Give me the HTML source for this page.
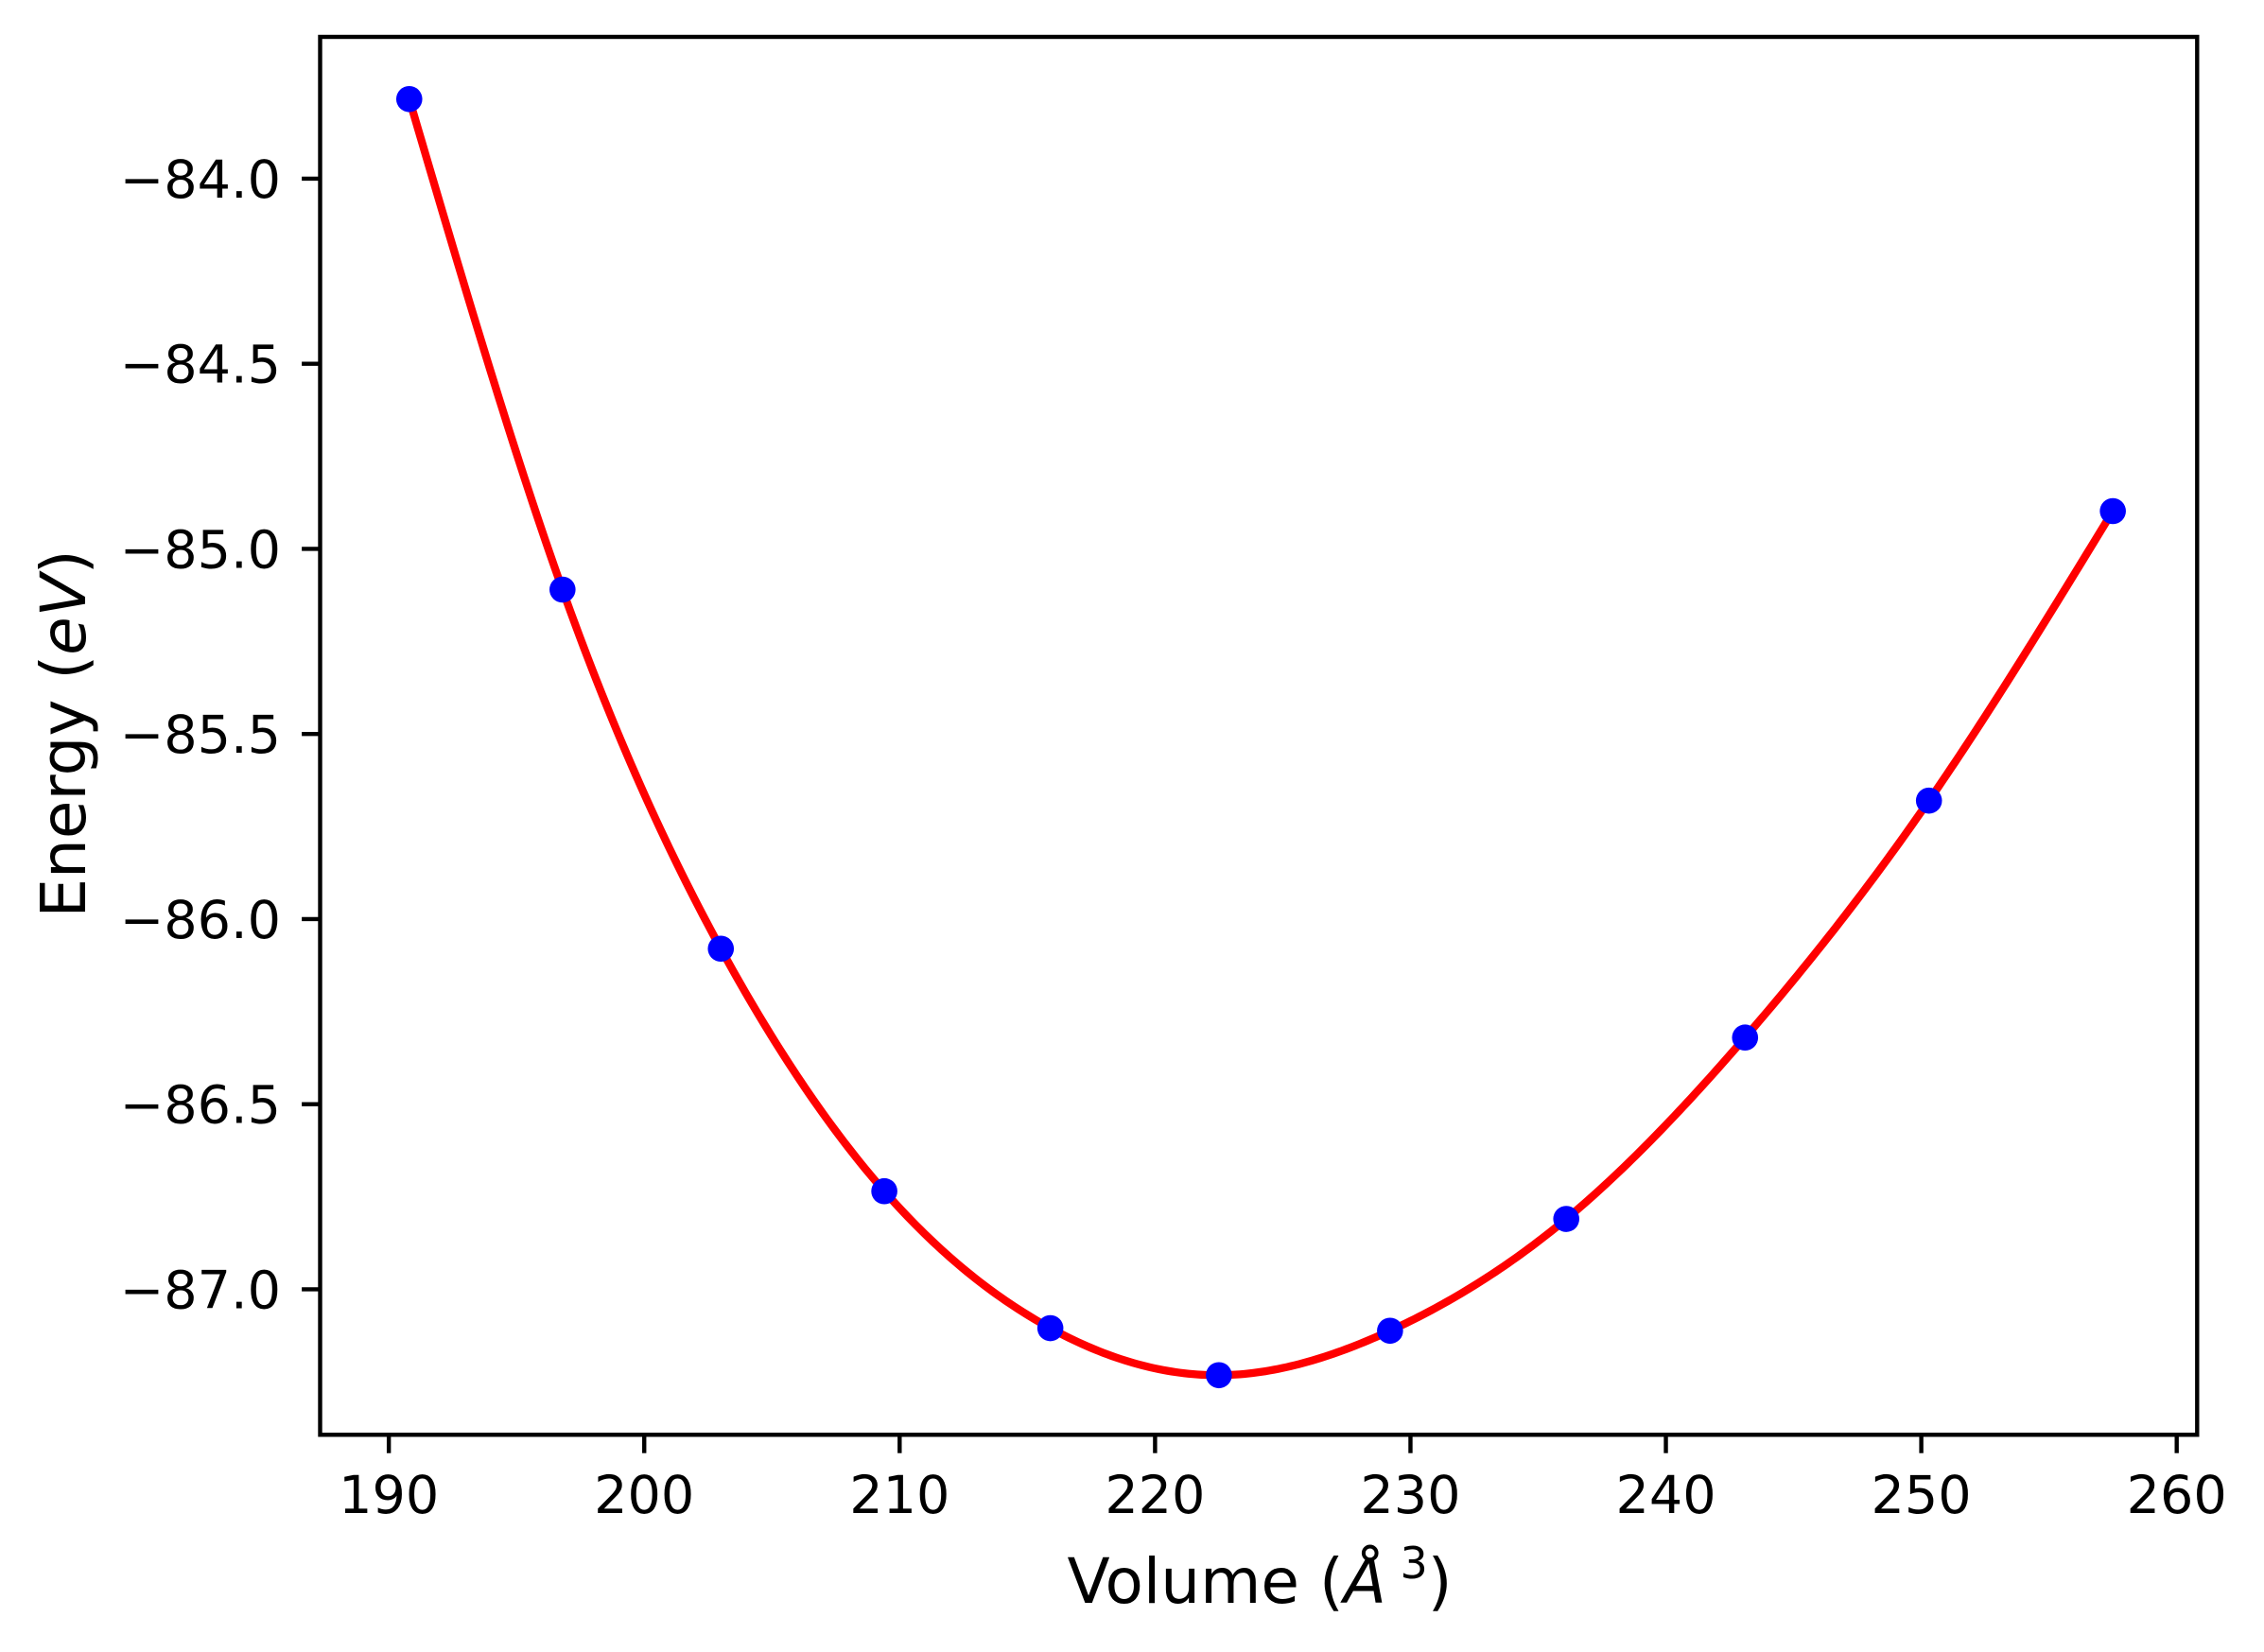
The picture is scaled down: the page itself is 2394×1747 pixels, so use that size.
<!DOCTYPE html>
<html><head><meta charset="utf-8"><style>
html,body{margin:0;padding:0;background:#fff;}
svg{display:block;}
text{font-family:"DejaVu Sans","Liberation Sans",sans-serif;fill:#000;}
</style></head><body>
<svg id="chart" width="2394" height="1747" viewBox="0 0 2394 1747" xmlns="http://www.w3.org/2000/svg">
<rect width="2394" height="1747" fill="#fff"/>
<g id="plot"></g>
<g id="axes"></g>
<text x="1332" y="1695" font-size="66" text-anchor="middle">Volume (<tspan font-style="italic">Å</tspan><tspan font-size="46" dy="-26"> 3</tspan><tspan dy="26">)</tspan></text>
<text transform="translate(90,776) rotate(-90)" font-size="66" text-anchor="middle">Energy (<tspan font-style="italic">eV</tspan>)</text>
</svg>
<script>
const volumes = [190.8, 196.8, 203.0, 209.4, 215.9, 222.5, 229.2, 236.1, 243.1, 250.3, 257.5];
const energies = [-83.785, -85.11, -86.08, -86.735, -87.105, -87.232, -87.112, -86.81, -86.32, -85.68, -84.898];
const xTicks = [190, 200, 210, 220, 230, 240, 250, 260];
const yTicks = [-84.0, -84.5, -85.0, -85.5, -86.0, -86.5, -87.0];
const yTickLabels = ["\u221284.0","\u221284.5","\u221285.0","\u221285.5","\u221286.0","\u221286.5","\u221287.0"];

const L=338.5, R=2323.3, T=39, B=1517.3;
const xMin=187.31, xMax=260.8, yMin=-87.393, yMax=-83.617;
const sx=v=>L+(v-xMin)/(xMax-xMin)*(R-L);
const sy=v=>B-(v-yMin)/(yMax-yMin)*(B-T);
const NS="http://www.w3.org/2000/svg";
const plot=document.getElementById('plot'), axes=document.getElementById('axes');
function mk(tag,attrs,parent){const e=document.createElementNS(NS,tag);for(const k in attrs)e.setAttribute(k,attrs[k]);parent.appendChild(e);return e;}

// natural cubic spline through data
function spline(xs,ys){
  const n=xs.length,h=[],al=[],l=[1],mu=[0],z=[0],c=new Array(n).fill(0),b=[],d=[];
  for(let i=0;i<n-1;i++)h.push(xs[i+1]-xs[i]);
  for(let i=1;i<n-1;i++)al[i]=3/h[i]*(ys[i+1]-ys[i])-3/h[i-1]*(ys[i]-ys[i-1]);
  for(let i=1;i<n-1;i++){l[i]=2*(xs[i+1]-xs[i-1])-h[i-1]*mu[i-1];mu[i]=h[i]/l[i];z[i]=(al[i]-h[i-1]*z[i-1])/l[i];}
  l[n-1]=1;z[n-1]=0;
  for(let j=n-2;j>=0;j--){c[j]=z[j]-mu[j]*c[j+1];b[j]=(ys[j+1]-ys[j])/h[j]-h[j]*(c[j+1]+2*c[j])/3;d[j]=(c[j+1]-c[j])/(3*h[j]);}
  return x=>{let i=0;while(i<n-2&&x>xs[i+1])i++;const t=x-xs[i];return ys[i]+b[i]*t+c[i]*t*t+d[i]*t*t*t;};
}
const f=spline(volumes,energies);
let dstr='';
const v0=volumes[0],v1=volumes[volumes.length-1];
for(let k=0;k<=400;k++){const v=v0+(v1-v0)*k/400;dstr+=(k?'L':'M')+sx(v).toFixed(2)+' '+sy(f(v)).toFixed(2);}
const curve=mk('path',{d:dstr,fill:'none',stroke:'#ff0000','stroke-width':8.3,'stroke-linejoin':'round'},plot);


volumes.forEach((v,i)=>{
  const c=mk('circle',{cx:sx(v),cy:sy(energies[i]),r:13.8,fill:'#0000ff'},plot);
  
  
});

const frame=mk('rect',{x:L,y:T,width:R-L,height:B-T,fill:'none',stroke:'#000','stroke-width':4.4},axes);


xTicks.forEach(t=>{
  const x=sx(t);
  const ln=mk('line',{x1:x,x2:x,y1:B,y2:B+19.4,stroke:'#000','stroke-width':4.4},axes);
  
  
  const tx=mk('text',{x:x,y:1600,'font-size':55.6,'text-anchor':'middle'},axes);
  tx.textContent=String(t);
  
  
});
yTicks.forEach((t,i)=>{
  const y=sy(t);
  const ln=mk('line',{x1:L-19.4,x2:L,y1:y,y2:y,stroke:'#000','stroke-width':4.4},axes);
  
  
  const tx=mk('text',{x:297,y:y+20,'font-size':55.6,'text-anchor':'end'},axes);
  tx.textContent=yTickLabels[i];
  
  
});
</script>
</body></html>
